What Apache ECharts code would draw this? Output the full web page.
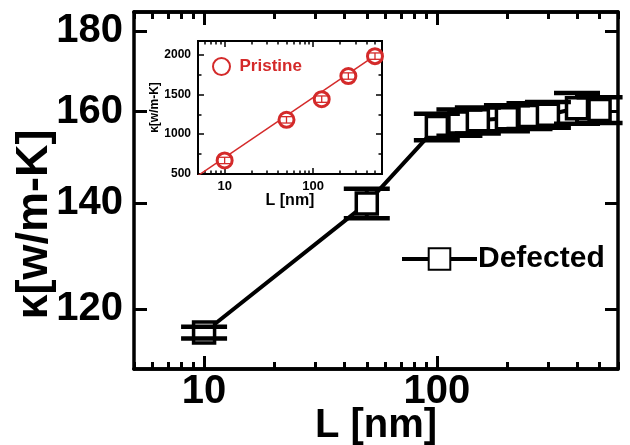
<!DOCTYPE html>
<html><head><meta charset="utf-8">
<script src="https://cdn.jsdelivr.net/npm/echarts@6/dist/echarts.min.js"></script>
<style>html,body{margin:0;padding:0;background:#fff}#c{width:630px;height:445px}</style>
</head><body><div id="c"></div>
<script>
// ---- data (main: Defected) ----
const mainL = [10, 50, 100, 125, 150, 200, 250, 300, 400, 500];
const mainK = [116, 140, 156.5, 157.5, 158, 158.5, 159, 159.3, 160.8, 160.4];
const mainErr = [1, 3, 3, 3, 3, 3, 3, 3, 3.6, 3];
// ---- data (inset: Pristine) ----
const pristL = [10, 50, 125, 250, 500];
const pristK = [670, 1180, 1440, 1730, 1980];
const pristErr = [40, 40, 40, 40, 40];
const fitL = [5, 500];
const fitK = [480, 1985];
// ---- ticks / ranges ----
const mainYTicks = [120, 140, 160, 180];
const xMajor = [10, 100];
const xMinor = [5, 6, 7, 8, 9, 20, 30, 40, 50, 60, 70, 80, 90, 200, 300, 400, 500, 600];
const xRange = [5, 600];
const mainYRange = [110, 185];
const insetYMajor = [500, 1000, 1500, 2000];
const insetYMinor = [750, 1250, 1750];
const insetYRange = [500, 2170];

const RED = '#d42a2a';
const FONT = '"Liberation Sans", Arial, sans-serif';
const L = Math.log10;
const pow = v => String(Math.round(Math.pow(10, v)));

function axis(kind, gi, pos, range, ticks, len, tw, lw, transform, label, extra) {
  const f = transform ? L : (v => v);
  const a = {
    type: 'value', gridIndex: gi, position: pos,
    min: f(range[0]), max: f(range[1]),
    nameMoveOverlap: false,
    axisLine: { show: true, onZero: false, lineStyle: { color: '#000', width: lw } },
    axisTick: { show: true, inside: true, length: len, customValues: ticks.map(f), lineStyle: { color: '#000', width: tw } },
    axisLabel: label ? Object.assign({ show: true, customValues: ticks.map(f), color: '#000', fontWeight: 'bold', fontFamily: FONT,
      formatter: transform ? pow : (v => String(v)) }, label) : { show: false },
    splitLine: { show: false }, minorTick: { show: false }
  };
  return Object.assign(a, extra || {});
}

const xAxes = [
  axis('x', 0, 'bottom', xRange, xMajor, 13, 3, 3.5, true, { fontSize: 40, margin: 3 },
    { name: 'L [nm]', nameLocation: 'middle', nameGap: 37,
      nameTextStyle: { fontSize: 40, fontWeight: 'bold', color: '#000', fontFamily: FONT } }),
  axis('x', 0, 'bottom', xRange, xMinor, 7, 3, 3.5, true, null),
  axis('x', 0, 'top', xRange, xMajor, 13, 3, 3.5, true, null),
  axis('x', 0, 'top', xRange, xMinor, 7, 3, 3.5, true, null),
  axis('x', 1, 'bottom', xRange, xMajor, 6, 1.5, 2, true, { fontSize: 13, margin: 6 },
    { name: 'L [nm]', nameLocation: 'middle', nameGap: 19,
      nameTextStyle: { fontSize: 16, fontWeight: 'bold', color: '#000', fontFamily: FONT } }),
  axis('x', 1, 'bottom', xRange, xMinor, 3.5, 1.5, 2, true, null),
  axis('x', 1, 'top', xRange, xMajor, 6, 1.5, 2, true, null),
  axis('x', 1, 'top', xRange, xMinor, 3.5, 1.5, 2, true, null)
];
const yAxes = [
  axis('y', 0, 'left', mainYRange, mainYTicks, 13, 3, 3.5, true, { fontSize: 40, margin: 11 },
    { name: 'κ[w/m-K]', nameLocation: 'middle', nameGap: 77,
      nameTextStyle: { fontSize: 45, fontWeight: 'bold', color: '#000', fontFamily: FONT, padding: [0, 68, 0, 0] } }),
  axis('y', 0, 'right', mainYRange, mainYTicks, 13, 3, 3.5, true, null),
  axis('y', 1, 'left', insetYRange, insetYMajor, 6, 1.5, 2, false, { fontSize: 12, margin: 7 },
    { name: 'κ[w/m-K]', nameLocation: 'middle', nameGap: 37,
      nameTextStyle: { fontSize: 12, fontWeight: 'bold', color: '#000', fontFamily: FONT } }),
  axis('y', 1, 'left', insetYRange, insetYMinor, 3.5, 1.5, 2, false, null),
  axis('y', 1, 'right', insetYRange, insetYMajor, 6, 1.5, 2, false, null),
  axis('y', 1, 'right', insetYRange, insetYMinor, 3.5, 1.5, 2, false, null)
];

const mainPts = mainL.map((x, i) => [L(x), L(mainK[i])]);
const mainErrData = mainL.map((x, i) => [L(x), L(mainK[i] - mainErr[i]), L(mainK[i] + mainErr[i])]);
const pristPts = pristL.map((x, i) => [L(x), pristK[i]]);
const pristErrData = pristL.map((x, i) => [L(x), pristK[i] - pristErr[i], pristK[i] + pristErr[i]]);
const fitPts = fitL.map((x, i) => [L(x), fitK[i]]);

function stemRender(color, w) {
  return function (params, api) {
    const p1 = api.coord([api.value(0), api.value(1)]);
    const p2 = api.coord([api.value(0), api.value(2)]);
    return { type: 'line', shape: { x1: p1[0], y1: p1[1], x2: p2[0], y2: p2[1] }, style: { stroke: color, lineWidth: w } };
  };
}
function capRender(color, w, half) {
  return function (params, api) {
    const p1 = api.coord([api.value(0), api.value(1)]);
    const p2 = api.coord([api.value(0), api.value(2)]);
    return { type: 'group', children: [
      { type: 'line', shape: { x1: p1[0] - half, y1: p1[1], x2: p1[0] + half, y2: p1[1] }, style: { stroke: color, lineWidth: w } },
      { type: 'line', shape: { x1: p2[0] - half, y1: p2[1], x2: p2[0] + half, y2: p2[1] }, style: { stroke: color, lineWidth: w } }
    ] };
  };
}

const option = {
  backgroundColor: '#fff',
  animation: false,
  grid: [
    { left: 134, right: 12, top: 12, bottom: 76, show: false, containLabel: false, outerBoundsMode: 'none' },
    { left: 198, right: 248, top: 41, bottom: 271, show: true, backgroundColor: '#fff', borderWidth: 0,
      containLabel: false, outerBoundsMode: 'none' }
  ],
  xAxis: xAxes,
  yAxis: yAxes,
  legend: [
    { data: ['Defected'], left: 395, top: 239, itemWidth: 75, itemHeight: 27, itemGap: 0,
      lineStyle: { width: 4, color: '#000' },
      textStyle: { fontSize: 30, fontWeight: 'bold', color: '#000', fontFamily: FONT, padding: [0, 0, 0, -4] } },
    { data: ['Pristine'], left: 207, top: 52, itemWidth: 26, itemHeight: 17,
      textStyle: { fontSize: 17, fontWeight: 'bold', color: RED, fontFamily: FONT } }
  ],
  series: [
    { name: 'Defected', type: 'line', xAxisIndex: 0, yAxisIndex: 0, z: 2, data: mainPts,
      symbol: 'rect', symbolSize: 21,
      itemStyle: { color: '#fff', borderColor: '#000', borderWidth: 3.5 },
      lineStyle: { color: '#000', width: 4 } },
    { type: 'custom', xAxisIndex: 0, yAxisIndex: 0, z: 1, data: mainErrData,
      renderItem: stemRender('#000', 4), encode: { x: 0, y: [1, 2] } },
    { type: 'custom', xAxisIndex: 0, yAxisIndex: 0, z: 3, data: mainErrData,
      renderItem: capRender('#000', 4.5, 23), encode: { x: 0, y: [1, 2] } },
    { type: 'line', xAxisIndex: 4, yAxisIndex: 2, z: 2, data: fitPts, symbol: 'none',
      lineStyle: { color: RED, width: 1.5 } },
    { name: 'Pristine', type: 'scatter', xAxisIndex: 4, yAxisIndex: 2, z: 3, data: pristPts,
      symbol: 'circle', symbolSize: 15,
      itemStyle: { color: '#fff', borderColor: RED, borderWidth: 3, opacity: 1 } },
    { type: 'custom', xAxisIndex: 4, yAxisIndex: 2, z: 4, data: pristErrData,
      renderItem: function (params, api) {
        const s = stemRender(RED, 1.3)(params, api);
        const c = capRender(RED, 1.3, 6)(params, api);
        return { type: 'group', children: [s].concat(c.children) };
      }, encode: { x: 0, y: [1, 2] } }
  ]
};

const chart = echarts.init(document.getElementById('c'), null, { renderer: 'canvas' });
chart.setOption(option);
</script>
</body></html>
